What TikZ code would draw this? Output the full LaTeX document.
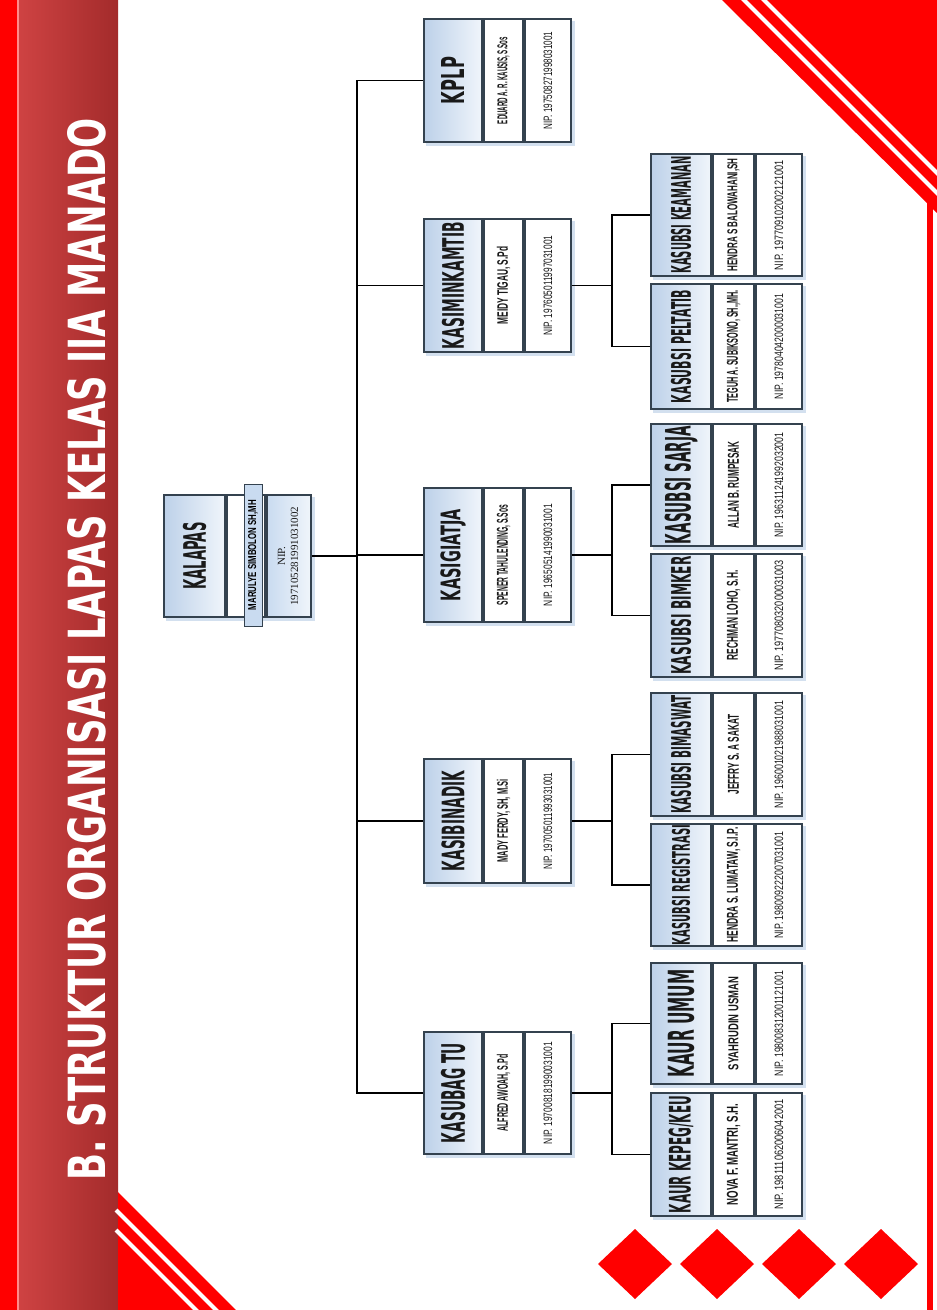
\documentclass[tikz,border=0pt]{standalone}
\usepackage{fontspec}
\setmainfont{Liberation Sans}
\newfontfamily\serifnip{Liberation Serif}
\newfontfamily\heavy{DejaVu Sans}
\usetikzlibrary{backgrounds}
\definecolor{bord}{HTML}{34424F}
\definecolor{tleft}{HTML}{BDD1E9}
\definecolor{tright}{HTML}{F0F5FB}
\definecolor{bandL}{HTML}{CF4343}
\definecolor{bandR}{HTML}{A32B2B}
\definecolor{redA}{HTML}{FF0000}
\definecolor{shad}{HTML}{D3E0EF}
\definecolor{labfill}{HTML}{C9DBF0}
\newcommand\R[3]{\rotatebox{90}{\resizebox{#1pt}{#2pt}{\heavy\bfseries #3}}}
\newcommand\Rb[3]{\rotatebox{90}{\resizebox{#1pt}{#2pt}{\bfseries #3}}}
\newcommand\Rn[3]{\rotatebox{90}{\resizebox{#1pt}{#2pt}{#3}}}
\newcommand\setw[3]{\def\wA{#1}\def\wB{#2}\def\wC{#3}}
\tikzset{
  sec/.style={draw=bord, line width=2pt, inner sep=0pt, fill=white, text=black!90},
  tsec/.style={sec, left color=tleft, right color=tright},
  psec/.style={sec, left color=labfill, right color=tright},
  conn/.style={draw=black, line width=1.4pt},
  lab/.style={draw=bord, line width=0.8pt, fill=labfill, inner sep=0pt},
}
\newcommand\orgbox[7]{%
  \node[tsec, minimum width=\wA pt, minimum height={#4pt-2pt}, anchor=north west] (#1) at (#2,#3) {#5};
  \node[sec, minimum width=\wB pt, minimum height={#4pt-2pt}, anchor=north west] (#1n) at (#1.north east) {#6};
  \node[sec, minimum width=\wC pt, minimum height={#4pt-2pt}, anchor=north west] (#1p) at (#1n.north east) {#7};
  \begin{scope}[on background layer]
    \fill[shad] ([xshift=3pt,yshift=-3pt]#1.north west) rectangle ([xshift=3pt,yshift=-3pt]#1p.south east);
  \end{scope}%
}
\begin{document}
\begin{tikzpicture}[x=1pt,y=-1pt]
\useasboundingbox (0,0) rectangle (937,1310);
\begin{scope}[on background layer]
  \fill[white] (0,0) rectangle (937,1310);
\end{scope}
% left band
\fill[redA] (0,0) rectangle (17,1310);
\shade[left color=bandL, right color=bandR] (17,0) rectangle (118,1310);
\fill[white!55!red] (17,0) rectangle (19,1310);
\node[inner sep=0pt, text=white] (title) at (87,649)
  {\rotatebox{90}{\resizebox{1062pt}{38pt}{\heavy\bfseries B. STRUKTUR ORGANISASI LAPAS KELAS IIA MANADO}}};
% top-right corner
\fill[redA] (722,0) -- (937,0) -- (937,213) -- cycle;
\draw[white, line width=4pt] (742,-2) -- (939,195);
\draw[white, line width=4pt] (762,-2) -- (939,175);
\fill[redA] (927,200) rectangle (933,1310);
% bottom-left corner
\fill[redA] (118,1192) -- (118,1310) -- (236,1310) -- cycle;
\draw[white, line width=4pt] (116,1210) -- (218,1312);
\draw[white, line width=4pt] (116,1230) -- (198,1312);
% diamonds
\foreach \cx in {635,717,799,881}
  \fill[redA] (\cx,1229) -- (\cx+37,1264) -- (\cx,1299) -- (\cx-37,1264) -- cycle;

% KALAPAS
\node[tsec, minimum width=61pt, minimum height=122pt, anchor=north west] (kalapas) at (163,494) {\R{67}{23}{KALAPAS}};
\node[sec, minimum width=38pt, minimum height=122pt, anchor=north west] (kalapasn) at (kalapas.north east) {};
\node[psec, minimum width=44pt, minimum height=122pt, anchor=north west] (kalapasp) at (kalapasn.north east)
  {\rotatebox{90}{\serifnip\fontsize{11}{13}\selectfont\begin{tabular}{@{}c@{}}NIP.\\197105281991031002\end{tabular}}};
\node[lab, minimum width=18pt, minimum height=142pt] (kalapasl) at (253,555) {\Rb{110}{8}{MARULYE SIMBOLON SH,MH}};
\begin{scope}[on background layer]
  \fill[shad] ([xshift=3pt,yshift=-3pt]kalapas.north west) rectangle ([xshift=3pt,yshift=-3pt]kalapasp.south east);
\end{scope}

% second level
\setw{58}{39}{46}
\orgbox{kplp}{423}{18}{125}{\R{47}{23}{KPLP}}{\Rb{87}{10}{EDUARD A. R. KAUSIS, S.Sos}}{\Rn{98}{8.5}{NIP. 197508271998031001}}
\orgbox{kasimin}{423}{218}{135}{\R{127}{22}{KASIMINKAMTIB}}{\Rb{78}{11}{MEIDY TIGAU, S.Pd}}{\Rn{100}{8.5}{NIP. 197605011997031001}}
\orgbox{kasigiat}{423}{487}{136}{\R{92}{20}{KASIGIATJA}}{\Rb{100}{11}{SPENER TAHULENDING, S.Sos}}{\Rn{102}{8.5}{NIP. 196505141990031001}}
\orgbox{kasibin}{423}{758}{126}{\R{100}{23}{KASIBINADIK}}{\Rb{83}{11}{MADY FERDY, SH, M.Si}}{\Rn{97}{8.5}{NIP. 197005011993031001}}
\orgbox{kasubag}{423}{1031}{124}{\R{100}{24}{KASUBAG TU}}{\Rb{77}{11}{ALFRED AWOAH, S.Pd}}{\Rn{102}{8.5}{NIP. 197008181990031001}}

% third level
\setw{60}{41}{46}
\orgbox{keamanan}{650}{153}{124}{\R{117}{20}{KASUBSI KEAMANAN}}{\Rb{113}{10}{HENDRA S BALOWAHANI,SH}}{\Rn{110}{8.5}{NIP. 197709102002121001}}
\orgbox{peltatib}{650}{283}{127}{\R{113}{20}{KASUBSI PELTATIB}}{\Rb{112}{11}{TEGUH A. SUBIKSONO, SH.,MH.}}{\Rn{105}{8.5}{NIP. 197804042000031001}}
\orgbox{sarja}{650}{423}{124}{\R{118}{26}{KASUBSI SARJA}}{\Rb{87}{11}{ALLAN B. RUMPESAK}}{\Rn{105}{8.5}{NIP. 196311241992032001}}
\orgbox{bimker}{650}{553}{125}{\R{118}{20}{KASUBSI BIMKER}}{\Rb{90}{11}{RECHMAN LOHO, S.H.}}{\Rn{110}{8.5}{NIP. 197708032000031003}}
\orgbox{bimaswat}{650}{692}{125}{\R{118}{20}{KASUBSI BIMASWAT}}{\Rb{80}{11}{JEFFRY S. A SAKAT}}{\Rn{107}{8.5}{NIP. 196001021988031001}}
\orgbox{registrasi}{650}{823}{124}{\R{120}{18}{KASUBSI REGISTRASI}}{\Rb{115}{11}{HENDRA S. LUMATAW, S.I.P.}}{\Rn{107}{8.5}{NIP. 198009222007031001}}
\orgbox{umum}{650}{962}{123}{\R{108}{26}{KAUR UMUM}}{\Rb{93}{10}{SYAHRUDIN USMAN}}{\Rn{105}{8.5}{NIP. 198008312001121001}}
\orgbox{kepeg}{650}{1092}{125}{\R{117}{22}{KAUR KEPEG/KEU}}{\Rb{102}{11}{NOVA F. MANTRI, S.H.}}{\Rn{110}{8.5}{NIP. 198111062006042001}}

% connectors
\coordinate (tx) at (357,0);
\coordinate (sx) at (612,0);
\draw[conn] (kalapasp.east) -- (kalapasp.east -| tx);
\foreach \n in {kplp,kasimin,kasigiat,kasibin,kasubag}
  \draw[conn] (\n.west) -| (kalapasp.east -| tx);
\foreach \p/\a/\b in {kasimin/keamanan/peltatib, kasigiat/sarja/bimker, kasibin/bimaswat/registrasi, kasubag/umum/kepeg}{
  \draw[conn] (\p p.east) -- (\p p.east -| sx);
  \draw[conn] (\a.west) -| (\p p.east -| sx);
  \draw[conn] (\b.west) -| (\p p.east -| sx);
}
\end{tikzpicture}
\end{document}
